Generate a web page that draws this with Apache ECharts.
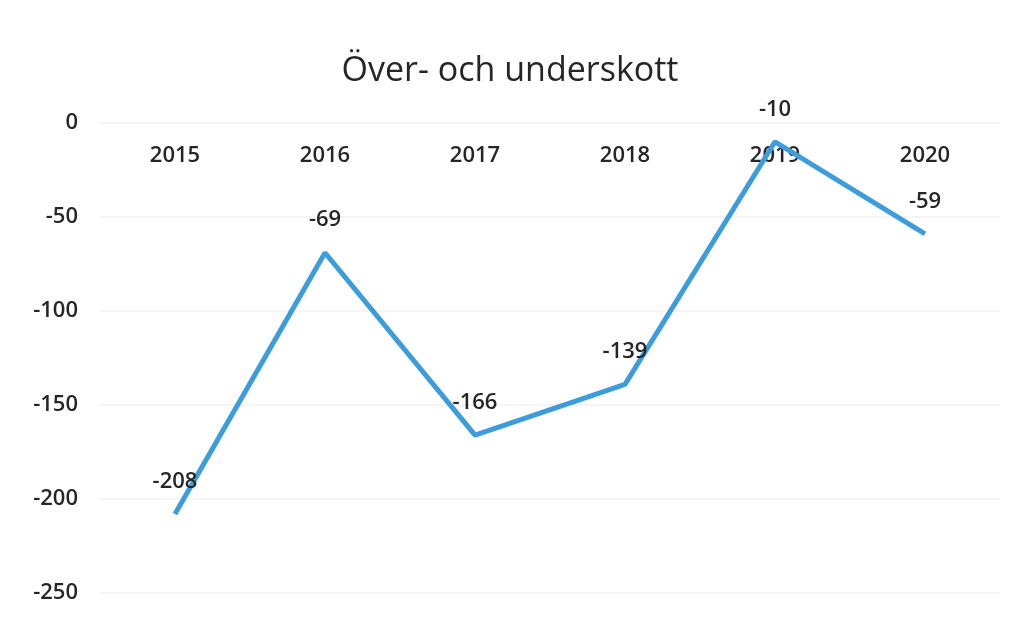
<!DOCTYPE html>
<html><head><meta charset="utf-8">
<script src="https://cdn.jsdelivr.net/npm/echarts@6/dist/echarts.min.js"></script>
<style>html,body{margin:0;padding:0;background:#fff}#c{width:1020px;height:623px}</style>
</head><body><div id="c"></div>
<script>
const titleText = "Över- och underskott";
const categories = ["2015","2016","2017","2018","2019","2020"];
const values = [-208, -69, -166, -139, -10, -59];
const yMin = -250, yMax = 0, yStep = 50;

const chart = echarts.init(document.getElementById('c'));
const font = '"Open Sans", "Liberation Sans", sans-serif';
chart.setOption({
  backgroundColor: '#fff',
  animation: false,
  title: {
    text: titleText, left: 'center', top: 49,
    textStyle: { fontFamily: font, fontSize: 34, fontWeight: 'normal', color: '#262626' }
  },
  grid: { left: 100, right: 20, top: 123, bottom: 30, containLabel: false, outerBoundsMode: 'none' },
  xAxis: {
    type: 'category', data: categories, boundaryGap: true, position: 'top',
    axisLine: { show: false },
    axisTick: { show: false },
    axisLabel: { inside: true, margin: 22, fontFamily: font, fontSize: 22, fontWeight: 600, color: '#262626' }
  },
  yAxis: {
    type: 'value', min: yMin, max: yMax, interval: yStep,
    axisLine: { show: false }, axisTick: { show: false },
    splitLine: { lineStyle: { color: '#f5f5f5', width: 2 } },
    axisLabel: { margin: 22, fontFamily: font, fontSize: 22, fontWeight: 600, color: '#262626' }
  },
  series: [{
    type: 'line', data: values, symbol: 'circle', symbolSize: 1,
    itemStyle: { color: 'rgba(0,0,0,0)' },
    lineStyle: { color: '#3d9ddc', width: 5 },
    label: { show: true, position: 'top', distance: 21, fontFamily: font, fontSize: 22, fontWeight: 600, color: '#262626' }
  }]
});
</script></body></html>
